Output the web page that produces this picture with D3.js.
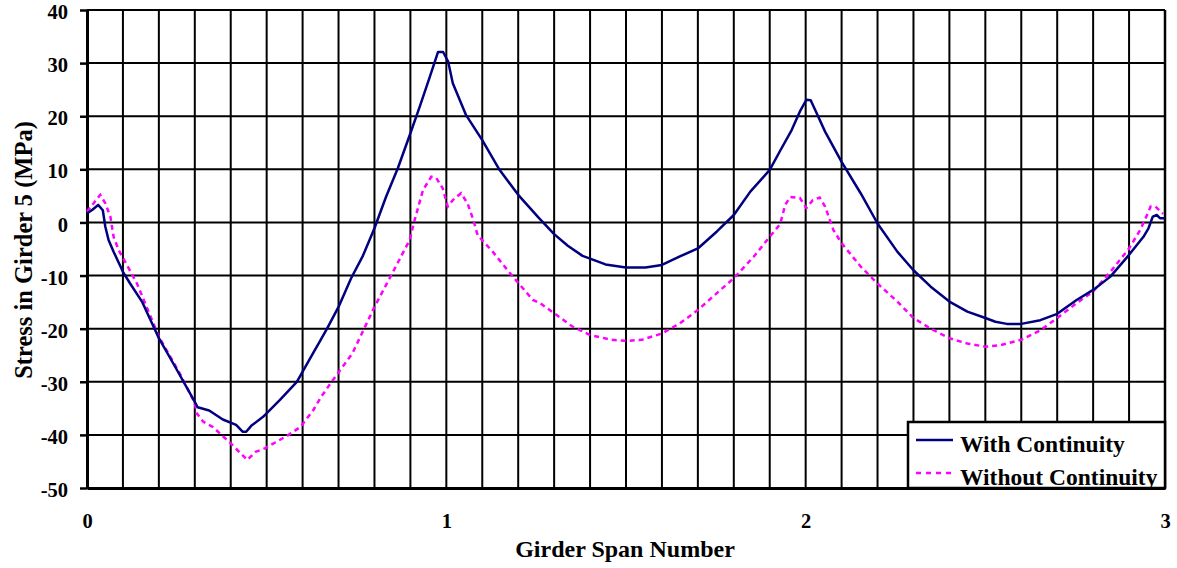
<!DOCTYPE html>
<html>
<head>
<meta charset="utf-8">
<script src="https://cdn.jsdelivr.net/npm/d3@7"></script>
<style>
  body { margin: 0; background: #fff; }
  svg { display: block; }
  text { font-family: "Liberation Serif", "Times New Roman", serif; font-weight: bold; fill: #000; }
</style>
</head>
<body>
<svg id="chart" width="1177" height="568"></svg>
<script>
// ---- Data ----
const xTickValues = [0, 1, 2, 3];
const yTickValues = [-50, -40, -30, -20, -10, 0, 10, 20, 30, 40];
const seriesNames = ["With Continuity", "Without Continuity"];

const withSpan = [0.000, 0.015, 0.031, 0.044, 0.051, 0.060, 0.074, 0.100, 0.120, 0.153, 0.200, 0.248, 0.300, 0.308, 0.340, 0.378, 0.415, 0.433, 0.443, 0.457, 0.490, 0.537, 0.584, 0.630, 0.648, 0.668, 0.700, 0.735, 0.767, 0.800, 0.832, 0.865, 0.900, 0.926, 0.954, 0.977, 0.991, 1.005, 1.018, 1.055, 1.100, 1.148, 1.200, 1.258, 1.300, 1.338, 1.379, 1.400, 1.443, 1.500, 1.554, 1.600, 1.650, 1.700, 1.753, 1.800, 1.846, 1.900, 1.929, 1.961, 1.984, 2.002, 2.014, 2.031, 2.054, 2.100, 2.153, 2.200, 2.255, 2.300, 2.348, 2.400, 2.450, 2.500, 2.528, 2.560, 2.600, 2.653, 2.700, 2.754, 2.800, 2.848, 2.900, 2.940, 2.954, 2.966, 2.977, 2.986, 3.000];
const withStress = [1.7, 2.4, 3.3, 2.3, -0.8, -3.3, -5.5, -9.3, -11.5, -14.9, -21.8, -27.5, -33.8, -34.8, -35.4, -37.1, -38.1, -39.4, -39.4, -38.3, -36.6, -33.4, -30.0, -24.5, -22.4, -20.0, -15.9, -10.5, -6.4, -1.1, 4.8, 10.2, 16.8, 21.8, 27.4, 32.1, 32.1, 30.3, 26.2, 20.2, 15.5, 9.9, 5.2, 0.8, -2.2, -4.4, -6.3, -6.8, -7.9, -8.5, -8.5, -8.0, -6.4, -4.9, -1.7, 1.4, 5.8, 9.9, 13.5, 17.4, 20.9, 23.1, 23.0, 20.5, 17.1, 11.4, 5.5, -0.2, -5.5, -9.0, -12.1, -14.9, -16.8, -18.0, -18.7, -19.1, -19.1, -18.4, -17.2, -14.6, -12.7, -10.2, -6.1, -2.7, -1.1, 1.1, 1.4, 0.8, 0.8];

const withoutSpan = [0.000, 0.025, 0.037, 0.051, 0.065, 0.074, 0.088, 0.111, 0.139, 0.200, 0.258, 0.300, 0.305, 0.323, 0.350, 0.400, 0.446, 0.469, 0.496, 0.561, 0.594, 0.630, 0.652, 0.684, 0.739, 0.800, 0.847, 0.898, 0.912, 0.935, 0.958, 0.972, 0.990, 1.004, 1.018, 1.041, 1.059, 1.075, 1.087, 1.129, 1.185, 1.241, 1.261, 1.300, 1.351, 1.400, 1.461, 1.500, 1.544, 1.600, 1.650, 1.700, 1.753, 1.800, 1.856, 1.900, 1.929, 1.943, 1.957, 1.984, 2.002, 2.020, 2.039, 2.054, 2.077, 2.100, 2.153, 2.200, 2.255, 2.300, 2.348, 2.400, 2.450, 2.500, 2.542, 2.600, 2.653, 2.700, 2.754, 2.800, 2.848, 2.900, 2.931, 2.950, 2.960, 2.973, 2.995];
const withoutStress = [2.0, 4.2, 5.2, 3.6, 1.1, -2.7, -5.2, -8.0, -11.5, -21.5, -28.4, -34.0, -35.9, -37.5, -38.5, -41.6, -44.7, -43.2, -42.5, -40.0, -38.5, -35.3, -32.8, -29.7, -24.6, -15.9, -9.9, -3.3, 0.5, 6.1, 8.6, 8.4, 6.4, 3.0, 4.2, 5.5, 3.6, 0.5, -2.4, -5.5, -10.2, -14.6, -15.2, -17.1, -19.6, -21.2, -22.1, -22.3, -22.1, -20.9, -19.0, -16.5, -13.3, -10.5, -6.4, -2.7, -0.3, 3.3, 4.8, 4.6, 2.7, 4.2, 4.7, 3.0, -1.4, -3.9, -8.3, -11.5, -14.9, -18.0, -20.0, -21.8, -22.8, -23.4, -23.1, -22.1, -20.3, -18.0, -15.2, -13.0, -9.3, -4.9, -1.4, 1.4, 3.0, 3.0, 1.6];

// ---- Layout ----
const svg = d3.select("#chart");
const W = 1177, H = 568;
const plot = { left: 87, right: 1165, top: 10, bottom: 488 };

svg.append("rect").attr("width", W).attr("height", H).attr("fill", "#fff");

const x = d3.scaleLinear().domain([0, 3]).range([plot.left, plot.right]);
const y = d3.scaleLinear().domain([-50, 40]).range([plot.bottom, plot.top]);
const plainFormat = d => String(d);

// grid
const vGrid = d3.range(31).map(i => i / 10);
svg.append("g").selectAll("line").data(vGrid).join("line")
  .attr("x1", d => x(d)).attr("x2", d => x(d))
  .attr("y1", plot.top).attr("y2", plot.bottom)
  .attr("stroke", "#000").attr("stroke-width", 2);

svg.append("g").selectAll("line").data(yTickValues).join("line")
  .attr("x1", plot.left).attr("x2", plot.right)
  .attr("y1", d => y(d)).attr("y2", d => y(d))
  .attr("stroke", "#000").attr("stroke-width", 2);

// Left axis
const yAxis = svg.append("g").attr("transform", `translate(${plot.left},0)`)
  .call(d3.axisLeft(y).tickValues(yTickValues).tickSize(7).tickSizeOuter(0).tickPadding(12).tickFormat(plainFormat));
yAxis.select(".domain").attr("stroke", "#000").attr("stroke-width", 3);
yAxis.selectAll(".tick line").attr("stroke", "#000").attr("stroke-width", 2.5);
yAxis.selectAll(".tick text").attr("font-size", 20.5).attr("dy", "0.42em")
  .style("font-family", "'Liberation Serif', serif").style("font-weight", "bold");

// Bottom axis
const xAxis = svg.append("g").attr("transform", `translate(0,${plot.bottom})`)
  .call(d3.axisBottom(x).tickValues(xTickValues).tickSize(0).tickSizeOuter(0).tickPadding(25).tickFormat(plainFormat));
xAxis.select(".domain").attr("stroke", "#000").attr("stroke-width", 3);
xAxis.selectAll(".tick text").attr("font-size", 20.5)
  .style("font-family", "'Liberation Serif', serif").style("font-weight", "bold");

// Right border
svg.append("line").attr("x1", plot.right).attr("x2", plot.right)
  .attr("y1", plot.top).attr("y2", plot.bottom).attr("stroke", "#000").attr("stroke-width", 2.5);

// Series lines
const line = d3.line().x(d => x(d[0])).y(d => y(d[1]));
const withData = withSpan.map((s, i) => [s, withStress[i]]);
const withoutData = withoutSpan.map((s, i) => [s, withoutStress[i]]);

svg.append("path").datum(withoutData).attr("d", line)
  .attr("fill", "none").attr("stroke", "#ff00ff").attr("stroke-width", 2.5)
  .attr("stroke-dasharray", "5,4");
svg.append("path").datum(withData).attr("d", line)
  .attr("fill", "none").attr("stroke", "#000080").attr("stroke-width", 2.5)
  .attr("stroke-linejoin", "round");

// Axis titles
svg.append("text").attr("x", 625).attr("y", 557)
  .attr("text-anchor", "middle").attr("font-size", 24).text("Girder Span Number");
svg.append("text").attr("transform", `translate(32,250) rotate(-90)`)
  .attr("text-anchor", "middle").attr("font-size", 24.5).text("Stress in Girder 5 (MPa)");

// Legend
const lg = svg.append("g");
lg.append("rect").attr("x", 908).attr("y", 422).attr("width", plot.right - 908).attr("height", plot.bottom - 422)
  .attr("fill", "#fff").attr("stroke", "#000").attr("stroke-width", 2.5);
const legendStyles = [
  { color: "#000080", dash: null },
  { color: "#ff00ff", dash: "5,5" }
];
seriesNames.forEach((name, i) => {
  const ly = 440 + i * 33;
  lg.append("line").attr("x1", 916).attr("x2", 953).attr("y1", ly).attr("y2", ly)
    .attr("stroke", legendStyles[i].color).attr("stroke-width", 2.5)
    .attr("stroke-dasharray", legendStyles[i].dash);
  lg.append("text").attr("x", 960).attr("y", ly + 12).attr("font-size", 23.5).text(name);
});
</script>
</body>
</html>
